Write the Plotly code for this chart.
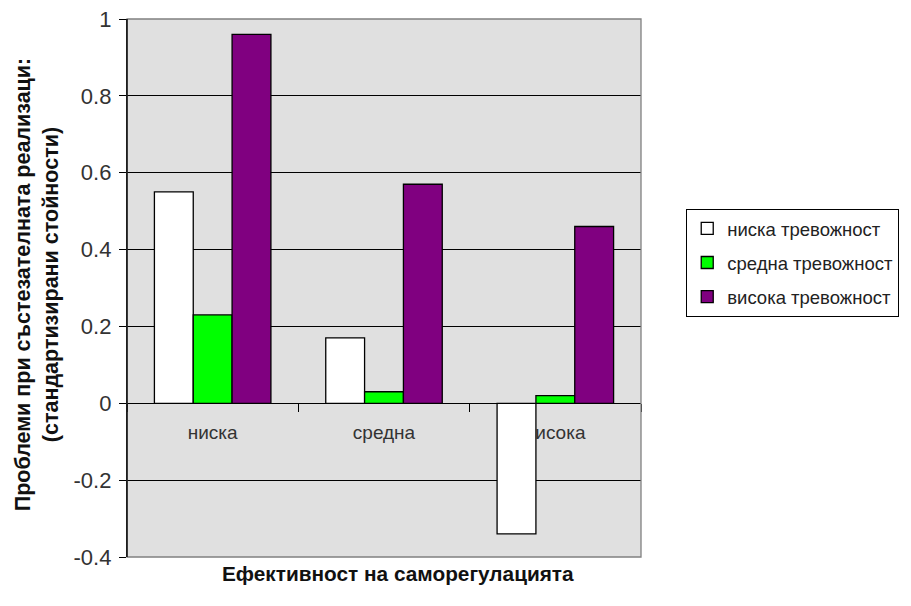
import plotly.graph_objects as go

categories = ["ниска", "средна", "висока"]
series_names = ["ниска тревожност", "средна тревожност", "висока тревожност"]
low_anx = [0.55, 0.17, -0.34]
mid_anx = [0.23, 0.03, 0.02]
high_anx = [0.96, 0.57, 0.46]
y_ticks = [-0.4, -0.2, 0, 0.2, 0.4, 0.6, 0.8, 1]
y_tick_labels = ["-0.4", "-0.2", "0", "0.2", "0.4", "0.6", "0.8", "1"]

colors = ["#FFFFFF", "#00FF00", "#800080"]
font = "Arial, Liberation Sans, sans-serif"

fig = go.Figure()
for i, (name, vals, col) in enumerate(zip(series_names, [low_anx, mid_anx, high_anx], colors)):
    fig.add_trace(go.Bar(
        x=categories, y=vals, name=name, legendgroup=f"g{i}",
        marker=dict(color=col, line=dict(color="#000000", width=1.3)),
    ))

y_min, y_max = -0.4, 1.0
zero_pos = (0 - y_min) / (y_max - y_min)

fig.update_layout(
    width=911, height=606,
    margin=dict(l=127, r=270, t=19, b=49, autoexpand=False),
    paper_bgcolor="#FFFFFF",
    plot_bgcolor="#E0E0E0",
    barmode="group",
    bargap=0.32,
    bargroupgap=0,
    font=dict(family=font, size=19, color="#333333"),
    xaxis=dict(
        anchor="free", position=zero_pos, automargin=False,
        showline=True, linecolor="#000000", linewidth=1.3,
        ticks="outside", ticklen=8, tickcolor="#000000",
        tickson="boundaries",
        ticklabelstandoff=12,
        tickfont=dict(size=19, color="#333333"),
        showgrid=False, layer="below traces",
    ),
    yaxis=dict(
        range=[y_min, y_max], automargin=False,
        tickvals=y_ticks, ticktext=y_tick_labels,
        showline=True, linecolor="#000000", linewidth=1.3,
        ticks="outside", ticklen=7, tickcolor="#000000",
        ticklabelstandoff=3,
        showgrid=True, gridcolor="#000000", gridwidth=1.2,
        zeroline=False,
        tickfont=dict(size=22, color="#333333"),
    ),
    legend=dict(
        x=1.088, y=0.647, xanchor="left", yanchor="top",
        bordercolor="#000000", borderwidth=1,
        bgcolor="#FFFFFF",
        font=dict(size=18.5, color="#222222"),
        itemwidth=30, tracegroupgap=7,
    ),
    showlegend=True,
)

# plot-area frame on the top, right and bottom sides
fig.add_shape(type="rect", xref="paper", yref="paper", x0=0, y0=0, x1=1, y1=1,
              line=dict(color="#808080", width=1.3), layer="above")
fig.add_shape(type="line", xref="paper", yref="paper", x0=0, y0=0, x1=0, y1=1,
              line=dict(color="#000000", width=1.3), layer="above")

fig.add_annotation(
    text="<b>Ефективност на саморегулацията</b>",
    xref="paper", yref="paper", x=0.527, y=-0.03, yanchor="middle",
    showarrow=False, font=dict(size=20.8, color="#111111"),
)
fig.add_annotation(
    text="<b>Проблеми при състезателната реализаци:<br>(стандартизирани стойности)</b>",
    xref="paper", yref="paper", x=-0.176, y=0.506, xanchor="center", yanchor="middle",
    textangle=-90, showarrow=False, font=dict(size=21.5, color="#111111"),
)

fig.write_html("out.html")
